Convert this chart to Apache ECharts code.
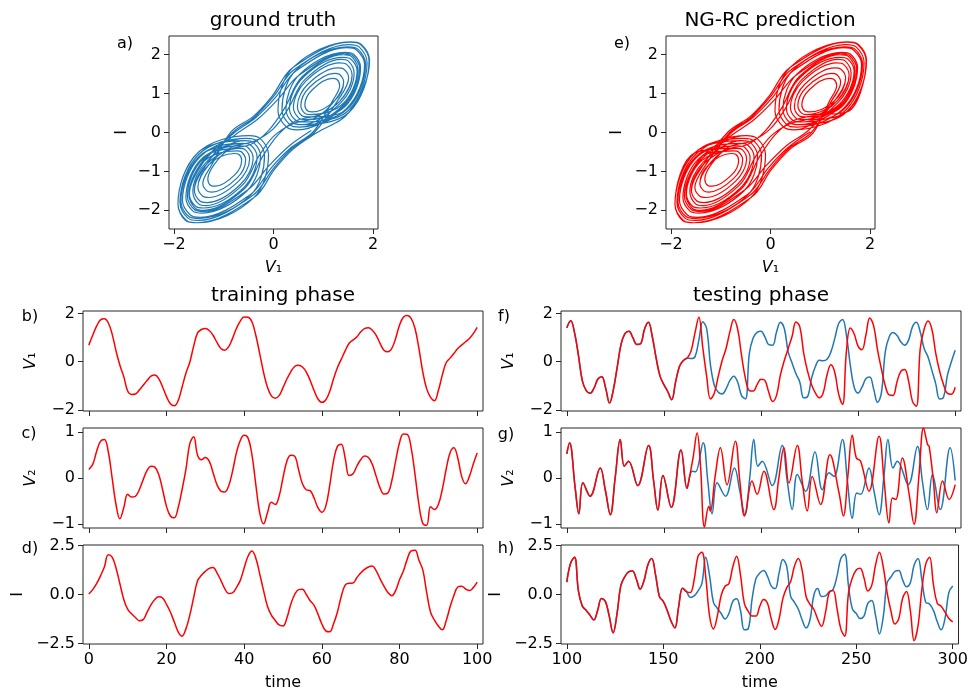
<!DOCTYPE html>
<html>
<head>
<meta charset="utf-8">
<script src="https://cdn.jsdelivr.net/npm/echarts@6/dist/echarts.min.js"></script>
<style>
html,body{margin:0;padding:0;background:#fff;}
#main{width:971px;height:692px;}
</style>
</head>
<body>
<div id="main"></div>
<script>
// training phase, t = 0..100 (step 1)
var trainV1 = [0.69,1.10,1.48,1.74,1.79,1.62,1.15,0.45,-0.15,-0.62,
  -1.22,-1.36,-1.34,-1.18,-0.98,-0.78,-0.60,-0.55,-0.70,-1.05,
  -1.45,-1.75,-1.83,-1.62,-1.06,-0.48,-0.02,0.65,1.20,1.34,
  1.38,1.30,1.10,0.80,0.55,0.48,0.62,0.97,1.38,1.69,
  1.86,1.85,1.66,1.10,0.34,-0.45,-1.06,-1.42,-1.52,-1.41,
  -1.08,-0.72,-0.42,-0.20,-0.15,-0.22,-0.43,-0.78,-1.20,-1.55,
  -1.69,-1.59,-1.25,-0.72,-0.25,0.10,0.45,0.76,0.90,1.03,
  1.24,1.38,1.41,1.31,1.10,0.76,0.48,0.41,0.55,0.97,
  1.52,1.85,1.92,1.80,1.38,0.55,-0.43,-1.13,-1.48,-1.62,
  -1.20,-0.57,-0.04,0.15,0.34,0.55,0.69,0.83,0.97,1.17,
  1.43];
var trainV2 = [0.19,0.30,0.58,0.80,0.84,0.58,0.01,-0.57,-0.88,-0.64,
  -0.35,-0.41,-0.39,-0.25,-0.03,0.17,0.26,0.24,0.08,-0.25,
  -0.61,-0.82,-0.86,-0.64,-0.25,0.19,0.75,0.90,0.50,0.40,
  0.45,0.37,0.12,-0.14,-0.28,-0.30,-0.17,0.15,0.55,0.82,
  0.93,0.87,0.51,-0.14,-0.75,-0.99,-0.75,-0.52,-0.57,-0.39,
  0.01,0.37,0.50,0.48,0.19,-0.12,-0.25,-0.27,-0.43,-0.64,
  -0.74,-0.61,-0.17,0.37,0.69,0.74,0.44,0.06,0.09,0.26,
  0.40,0.48,0.45,0.30,0.04,-0.21,-0.34,-0.32,-0.06,0.37,
  0.77,0.96,0.95,0.66,0.08,-0.57,-0.98,-1.02,-0.62,-0.68,
  -0.57,-0.25,0.19,0.55,0.66,0.44,0.04,-0.12,0.04,0.31,
  0.55];
var trainI = [0.02,0.25,0.55,0.95,1.40,2.02,1.90,1.35,0.55,-0.25,
  -0.75,-0.98,-1.17,-1.33,-1.28,-0.90,-0.53,-0.25,-0.12,-0.18,
  -0.50,-0.89,-1.40,-1.90,-2.12,-1.75,-1.05,-0.15,0.70,0.98,
  1.18,1.33,1.38,1.10,0.72,0.30,0.05,0.08,0.35,0.72,
  1.35,1.95,2.21,1.85,1.05,0.20,-0.60,-1.05,-1.32,-1.55,
  -1.60,-1.20,-0.50,0.00,0.25,0.27,0.00,-0.32,-0.55,-1.00,
  -1.50,-1.85,-1.90,-1.50,-0.90,-0.10,0.48,0.57,0.58,0.85,
  1.10,1.28,1.40,1.45,1.20,0.80,0.43,0.10,-0.06,0.20,
  0.75,1.20,1.80,2.22,2.25,1.75,1.25,0.10,-0.90,-1.30,
  -1.60,-1.80,-1.35,-0.65,-0.05,0.38,0.42,0.28,0.20,0.35,
  0.63];

// testing phase, t = 100..162 (step 2) where truth and prediction agree
var testV1Common = [1.41,1.70,1.20,0.25,-0.80,-1.20,-1.31,-1.10,-0.72,-0.62,
  -1.10,-1.72,-1.15,-0.20,0.75,1.18,1.27,1.00,0.72,0.75,
  1.35,1.64,1.05,0.15,-0.60,-0.95,-1.25,-1.58,-0.85,-0.20,
  0.05,0.15];
var testICommon = [0.63,1.60,1.90,0.20,-0.58,-0.80,-1.05,-1.30,-0.80,-0.20,
  -0.35,-1.10,-1.95,-1.00,0.45,0.90,1.15,1.20,0.80,0.28,
  0.70,1.50,1.83,1.00,-0.10,-0.35,-0.80,-1.35,-1.70,-0.60,
  0.32,0.15];
// t = 164..300 (step 2)
var testV1True = [0.13,0.20,0.90,1.66,1.38,-0.15,-0.99,-1.27,-1.34,-1.13,
  -0.78,-0.60,-0.85,-1.41,-1.55,0.35,1.00,1.22,1.27,1.03,
  0.71,0.69,1.24,1.64,1.38,0.41,-0.05,-0.50,-0.85,-1.50,
  -1.45,-0.70,-0.20,0.06,0.04,0.10,0.41,0.97,1.59,1.76,
  1.10,-0.15,-1.06,-1.30,-1.06,-0.71,-0.64,-1.13,-1.69,-1.30,
  0.41,1.03,1.22,1.10,0.83,0.69,0.90,1.45,1.64,1.24,
  0.55,0.20,-0.36,-0.92,-1.55,-1.48,-0.57,-0.01,0.48];
var testV1Pred = [0.45,1.20,1.85,0.60,-0.60,-1.55,-1.30,-0.60,0.05,0.55,
  1.25,1.76,1.35,0.25,-0.70,-1.20,-1.22,-0.95,-0.73,-0.78,
  -1.27,-1.65,-1.40,-0.55,0.05,0.55,1.05,1.65,1.45,0.35,
  -0.40,-0.95,-1.30,-1.50,-1.30,-0.55,-0.13,-0.45,-1.35,-1.78,
  0.45,1.40,1.15,0.65,0.50,1.10,1.82,1.50,0.50,-0.30,
  -1.00,-1.38,-1.40,-0.85,-0.40,-0.32,-0.80,-1.65,-1.85,0.55,
  1.35,1.69,1.35,0.35,-0.40,-0.95,-1.32,-1.35,-1.06];
var testITrue = [-0.15,-0.07,0.18,0.55,1.90,0.95,-0.40,-0.70,-0.97,-1.25,
  -0.97,-0.36,-0.22,-0.80,-1.80,-1.75,-0.25,0.80,1.09,1.22,
  0.92,0.43,0.30,1.09,1.78,1.42,-0.10,-0.40,-0.75,-1.30,
  -1.70,-1.30,-0.05,0.30,-0.10,-0.07,0.13,0.26,0.92,1.83,
  2.05,0.43,-0.73,-0.97,-1.22,-1.10,-0.45,-0.31,-1.06,-2.01,
  -1.14,0.59,0.89,1.17,1.22,0.76,0.40,0.59,1.50,1.83,
  0.76,-0.40,-0.48,-0.81,-1.39,-1.80,-1.22,0.10,0.43];
var testIPred = [0.10,0.75,1.95,2.15,0.90,-1.10,-1.75,-1.10,-0.05,0.42,
  0.55,1.40,1.95,1.00,-0.45,-0.85,-1.10,-1.10,-0.60,-0.25,
  -0.45,-1.25,-1.78,-1.25,-0.20,0.35,0.65,1.45,1.83,1.20,
  -0.10,-0.50,-0.75,-1.25,-1.62,-0.95,0.10,0.20,-0.70,-1.75,
  -2.12,0.10,0.85,1.25,1.34,0.85,0.18,0.45,1.50,2.15,
  1.40,0.10,-0.85,-1.50,-1.25,-0.20,0.15,-0.80,-2.35,-1.60,
  0.26,1.55,1.90,0.50,-0.45,-0.60,-0.90,-1.22,-1.39];

// V2 in the testing phase, read as [time, value] turning points
var testV2Common = [[100,0.53],[101.4,0.77],[104.3,-0.21],[106.2,-0.77],[108.3,-0.10],[112.0,-0.39],
  [117.2,0.22],[119.8,-0.25],[122.4,-0.79],[124.9,0.01],[127.5,0.84],[129.6,0.26],[131.8,0.37],
  [136.5,-0.16],[142.1,0.71],[144.7,-0.06],[146.9,-0.69],[149.5,0.06],[153.8,-0.63],[158.8,0.61],
  [161.9,-0.22]];
var testV2True = [[164.5,0.15],[166.2,0.14],[170.2,0.77],[172.6,-0.06],[174.8,-0.77],[177.4,-0.10],
  [181.7,-0.39],[186.3,0.22],[189.1,-0.28],[191.7,-0.79],[194.2,0.01],[196.3,0.84],[198.4,0.26],
  [200.6,0.37],[205.8,-0.16],[210.9,0.71],[213.5,-0.06],[216.1,-0.68],[218.7,0.08],[223.0,-0.28],
  [227.8,0.57],[231.6,-0.25],[235.0,0.12],[237.6,0.04],[241.9,0.84],[244.5,-0.06],[247.0,-0.87],
  [249.3,-0.32],[251.3,-0.35],[255.6,0.22],[258.2,-0.28],[260.8,-0.79],[263.4,0.08],[265.4,0.84],
  [268.0,0.22],[270.2,0.37],[275.8,-0.14],[280.6,0.69],[283.1,-0.06],[285.7,-0.68],[288.3,0.08],
  [292.3,-0.68],[297.4,0.66],[300,-0.05]];
var testV2Pred = [[162.8,-0.06],[165.0,0.44],[167.1,0.98],[168.8,0.30],[170.9,-1.06],[173.1,-0.61],
  [173.9,-0.71],[176.5,0.08],[179.1,0.66],[182.5,-0.14],[186.8,0.80],[189.1,-0.06],[191.5,-0.82],
  [195.4,-0.06],[198.0,-0.35],[201.5,0.15],[206.6,-0.68],[209.2,0.01],[211.8,0.66],[214.4,-0.10],
  [218.7,0.71],[221.2,-0.06],[223.8,-0.71],[226.4,0.04],[230.7,-0.57],[235.5,0.51],[240.2,-0.32],
  [242.4,-0.82],[244.8,0.08],[247.0,0.93],[249.1,0.44],[251.3,0.37],[255.6,-0.28],[260.8,0.91],
  [263.4,-0.06],[265.9,-0.97],[267.7,-0.43],[269.4,-0.46],[272.8,0.44],[276.3,-0.35],[278.8,-1.00],
  [281.4,0.08],[283.7,1.09],[285.8,0.73],[286.6,0.69],[288.8,-0.06],[290.5,-0.75],[293.5,-0.06],
  [296.9,-0.46],[300,-0.14]];

// phase portrait (V1, I): tilted loops traced round the right lobe,
// counter-clockwise from the lower-right side (rightmost, top and leftmost points included)
var R1 = [[1.19,0.82],[1.33,1.21],[1.27,1.37],[1.18,1.39],[0.78,1.10],[0.63,0.71],[0.69,0.55],[0.78,0.53]];
var R2 = [[1.23,0.82],[1.41,1.30],[1.33,1.49],[1.23,1.52],[0.73,1.17],[0.55,0.69],[0.63,0.49],[0.73,0.46]];
var R3 = [[1.29,0.82],[1.51,1.40],[1.41,1.63],[1.29,1.66],[0.69,1.24],[0.48,0.67],[0.57,0.43],[0.69,0.40]];
var R4 = [[1.33,0.80],[1.58,1.48],[1.47,1.75],[1.33,1.79],[0.65,1.32],[0.40,0.64],[0.51,0.37],[0.65,0.33]];
var R5 = [[1.38,0.72],[1.68,1.58],[1.55,1.89],[1.39,1.93],[0.60,1.42],[0.32,0.62],[0.45,0.31],[0.61,0.27]];
var R6 = [[1.43,0.66],[1.75,1.67],[1.61,2.01],[1.43,2.06],[0.53,1.50],[0.25,0.60],[0.39,0.25],[0.57,0.20]];
var R7 = [[1.48,0.60],[1.85,1.77],[1.69,2.15],[1.49,2.20],[0.45,1.60],[0.17,0.58],[0.33,0.20],[0.53,0.14]];
var R8 = [[1.52,0.52],[1.93,1.85],[1.76,2.27],[1.54,2.33],[0.40,1.68],[0.09,0.55],[0.26,0.14],[0.48,0.07]];
// outer right loops that leave down the central band to the left lobe
var RX1 = [[1.52,0.52],[1.92,1.84],[1.75,2.26],[1.53,2.32],[0.38,1.66],[-0.02,0.95],[-0.40,0.42],[-0.85,0.02]];
var RX2 = [[1.47,0.62],[1.83,1.75],[1.67,2.12],[1.47,2.18],[0.45,1.58],[0.04,0.90],[-0.36,0.38],[-0.80,-0.02]];
var RX3 = [[1.42,0.68],[1.73,1.64],[1.59,1.98],[1.41,2.03],[0.52,1.48],[0.08,0.84],[-0.32,0.34],[-0.76,-0.05]];
var RX4 = [[1.40,0.70],[1.70,1.60],[1.57,1.95],[1.40,2.00],[0.58,1.44],[0.22,0.62],[-0.10,0.05],[-0.45,-0.30],[-0.90,-0.45]];
var RX5 = [[1.35,0.76],[1.62,1.52],[1.50,1.84],[1.35,1.88],[0.63,1.36],[0.30,0.62],[0.00,0.10],[-0.38,-0.22],[-0.85,-0.38]];
var RX6 = [[1.50,0.56],[1.88,1.80],[1.72,2.20],[1.51,2.26],[0.42,1.62],[0.00,0.92],[-0.38,0.40],[-0.82,0.00]];
// left lobe loops, counter-clockwise from the upper-left side
var L1 = [[-1.19,-0.82],[-1.32,-1.20],[-1.26,-1.36],[-1.17,-1.38],[-0.78,-1.09],[-0.64,-0.71],[-0.70,-0.56],[-0.79,-0.54]];
var L2 = [[-1.24,-0.83],[-1.42,-1.31],[-1.34,-1.50],[-1.24,-1.53],[-0.74,-1.18],[-0.56,-0.70],[-0.64,-0.50],[-0.74,-0.47]];
var L3 = [[-1.30,-0.83],[-1.52,-1.41],[-1.42,-1.64],[-1.30,-1.67],[-0.70,-1.25],[-0.48,-0.68],[-0.57,-0.44],[-0.69,-0.41]];
var L4 = [[-1.34,-0.81],[-1.59,-1.49],[-1.48,-1.76],[-1.34,-1.80],[-0.66,-1.33],[-0.41,-0.65],[-0.52,-0.38],[-0.66,-0.34]];
var L5 = [[-1.39,-0.73],[-1.69,-1.59],[-1.56,-1.90],[-1.40,-1.94],[-0.61,-1.43],[-0.33,-0.63],[-0.46,-0.32],[-0.62,-0.28]];
var L6 = [[-1.44,-0.67],[-1.76,-1.68],[-1.62,-2.02],[-1.44,-2.07],[-0.54,-1.51],[-0.26,-0.61],[-0.40,-0.26],[-0.58,-0.21]];
var L7 = [[-1.49,-0.61],[-1.86,-1.78],[-1.70,-2.16],[-1.50,-2.21],[-0.46,-1.61],[-0.18,-0.59],[-0.34,-0.21],[-0.54,-0.15]];
var L8 = [[-1.53,-0.53],[-1.92,-1.85],[-1.76,-2.27],[-1.53,-2.32],[-0.40,-1.68],[-0.10,-0.56],[-0.27,-0.15],[-0.49,-0.08]];
// outer left loops that leave up the central band to the right lobe
var LX1 = [[-1.52,-0.52],[-1.92,-1.84],[-1.75,-2.26],[-1.53,-2.32],[-0.38,-1.66],[0.02,-0.95],[0.40,-0.42],[0.85,-0.02]];
var LX2 = [[-1.47,-0.62],[-1.83,-1.75],[-1.67,-2.12],[-1.47,-2.18],[-0.45,-1.58],[-0.04,-0.90],[0.36,-0.38],[0.80,0.02]];
var LX3 = [[-1.42,-0.68],[-1.73,-1.64],[-1.59,-1.98],[-1.41,-2.03],[-0.52,-1.48],[-0.08,-0.84],[0.32,-0.34],[0.76,0.05]];
var LX4 = [[-1.40,-0.70],[-1.70,-1.60],[-1.57,-1.95],[-1.40,-2.00],[-0.58,-1.44],[-0.22,-0.62],[0.10,-0.05],[0.45,0.30],[0.90,0.45]];
var LX5 = [[-1.35,-0.76],[-1.62,-1.52],[-1.50,-1.84],[-1.35,-1.88],[-0.63,-1.36],[-0.30,-0.62],[0.00,-0.10],[0.38,0.22],[0.85,0.38]];
var LX6 = [[-1.50,-0.56],[-1.88,-1.80],[-1.72,-2.20],[-1.51,-2.26],[-0.42,-1.62],[0.00,-0.92],[0.38,-0.40],[0.82,0.00]];

// order in which the loops are visited
var truthLoops = [R3, R4, R6, RX1, L2, L5, L7, LX2, R1, R2, R5, R7, RX4, L1, L3, L4, L6, L8, LX1, R8, RX3, LX4,
  R4, R6, RX5, L3, L6, LX5, R2, R5, RX6, L4, L7, LX6, R3, R7, RX2, L5, LX3];
var predLoops = [R2, R4, R5, R7, RX2, L3, L4, L6, LX1, R1, R3, R6, R8, RX5, L1, L2, L5, L7, L8, LX4, R6, RX3, LX3,
  R3, R5, RX4, L2, L6, LX5, R4, R8, RX6, L3, L8, LX6, R2, RX1, L4, LX2];

// tick labels
var phaseTicks = [-2, 0, 2];
var phaseITicks = [-2, -1, 0, 1, 2];
var v1Ticks = [-2, 0, 2];
var v2Ticks = [-1, 0, 1];
var iTicks = [-2.5, 0, 2.5];
var trainTimeTicks = [0, 20, 40, 60, 80, 100];
var testTimeTicks = [100, 150, 200, 250, 300];

// sampling grids of the series above
var trainTime = trainV1.map(function (_, i) { return i; });
var testTime = testV1Common.concat(testV1True).map(function (_, i) { return 100 + 2 * i; });

var BLUE = '#1f77b4', RED = '#ff0000', INK = '#262626';
var FONT = '"DejaVu Sans", sans-serif';

function pairs(xs, ys) { return xs.map(function (x, i) { return [x, ys[i]]; }); }
function minus(s) { return s.replace('-', '\u2212'); }
function chain(loops) { return loops.reduce(function (a, l) { return a.concat(l); }, []); }

function grid(l, t, w, h) {
  return { left: l, top: t, width: w, height: h, show: true, borderColor: INK, borderWidth: 1 };
}

function axis(gi, isY, min, max, ticks, showLabels, digits, name, gap) {
  return {
    type: 'value', gridIndex: gi, min: min, max: max,
    splitLine: { show: false }, axisLine: { show: false, onZero: false },
    axisTick: { show: true, length: 5, lineStyle: { color: INK }, customValues: ticks },
    axisLabel: {
      show: showLabels, customValues: ticks, margin: 8, fontFamily: FONT, fontSize: 16, color: '#000',
      formatter: function (v) { return minus(v.toFixed(digits)); }
    },
    name: name, nameLocation: 'middle', nameGap: gap, nameRotate: isY ? 90 : 0,
    nameTextStyle: {
      fontFamily: FONT, fontSize: 16, color: '#000',
      rich: { i: { fontFamily: FONT, fontSize: 16, fontStyle: 'italic', color: '#000' } }
    }
  };
}

function line(gi, data, color, width, smooth) {
  return {
    type: 'line', xAxisIndex: gi, yAxisIndex: gi, data: data, showSymbol: false,
    smooth: smooth, lineStyle: { color: color, width: width }, itemStyle: { color: color },
    silent: true
  };
}

function label(x, y, text, size) {
  return {
    type: 'text', x: x, y: y,
    style: { text: text, fontFamily: FONT, fontSize: size, fill: '#000',
      align: 'center', verticalAlign: 'middle', textAlign: 'center', textVerticalAlign: 'middle' }
  };
}

var V1 = '{i|V}\u2081', V2 = '{i|V}\u2082';

var chart = echarts.init(document.getElementById('main'));
chart.setOption({
  animation: false,
  backgroundColor: '#fff',
  grid: [
    grid(169, 36, 209, 193),
    grid(666, 36, 209, 193),
    grid(83, 311, 400, 100),
    grid(83, 428, 400, 100),
    grid(83, 545, 400, 101),
    grid(561, 311, 400, 100),
    grid(561, 428, 400, 100),
    grid(561, 545, 400, 101)
  ],
  xAxis: [
    axis(0, false, -2.1, 2.1, phaseTicks, true, 0, V1, 31),
    axis(1, false, -2.1, 2.1, phaseTicks, true, 0, V1, 31),
    axis(2, false, -1.5, 101.5, trainTimeTicks, false, 0, '', 30),
    axis(3, false, -1.5, 101.5, trainTimeTicks, false, 0, '', 30),
    axis(4, false, -1.5, 101.5, trainTimeTicks, true, 0, 'time', 31),
    axis(5, false, 97, 303, testTimeTicks, false, 0, '', 30),
    axis(6, false, 97, 303, testTimeTicks, false, 0, '', 30),
    axis(7, false, 97, 303, testTimeTicks, true, 0, 'time', 31)
  ],
  yAxis: [
    axis(0, true, -2.48, 2.48, phaseITicks, true, 0, 'I', 39),
    axis(1, true, -2.48, 2.48, phaseITicks, true, 0, 'I', 41),
    axis(2, true, -2.05, 2.11, v1Ticks, true, 0, V1, 44),
    axis(3, true, -1.08, 1.09, v2Ticks, true, 0, V2, 44),
    axis(4, true, -2.52, 2.52, iTicks, true, 1, 'I', 57),
    axis(5, true, -2.05, 2.11, v1Ticks, true, 0, V1, 44),
    axis(6, true, -1.08, 1.09, v2Ticks, true, 0, V2, 44),
    axis(7, true, -2.52, 2.52, iTicks, true, 1, 'I', 57)
  ],
  graphic: [
    label(273, 21, 'ground truth', 20),
    label(770, 21, 'NG-RC prediction', 20),
    label(283, 296, 'training phase', 20),
    label(761, 296, 'testing phase', 20),
    label(125, 44, 'a)', 16),
    label(622, 44, 'e)', 16),
    label(30, 317, 'b)', 16),
    label(29, 434, 'c)', 16),
    label(30, 549, 'd)', 16),
    label(504, 317, 'f)', 16),
    label(506, 435, 'g)', 16),
    label(506, 549, 'h)', 16)
  ],
  series: [
    line(0, chain(truthLoops), BLUE, 1.2, 0.35),
    line(1, chain(predLoops), RED, 1.2, 0.35),
    line(2, pairs(trainTime, trainV1), RED, 1.5, 0.4),
    line(3, pairs(trainTime, trainV2), RED, 1.5, 0.4),
    line(4, pairs(trainTime, trainI), RED, 1.5, 0.4),
    line(5, pairs(testTime, testV1Common.concat(testV1True)), BLUE, 1.5, 0.4),
    line(5, pairs(testTime, testV1Common.concat(testV1Pred)), RED, 1.5, 0.4),
    line(6, testV2Common.concat(testV2True), BLUE, 1.5, 0.4),
    line(6, testV2Common.concat(testV2Pred), RED, 1.5, 0.4),
    line(7, pairs(testTime, testICommon.concat(testITrue)), BLUE, 1.5, 0.4),
    line(7, pairs(testTime, testICommon.concat(testIPred)), RED, 1.5, 0.4)
  ]
});
</script>
</body>
</html>
